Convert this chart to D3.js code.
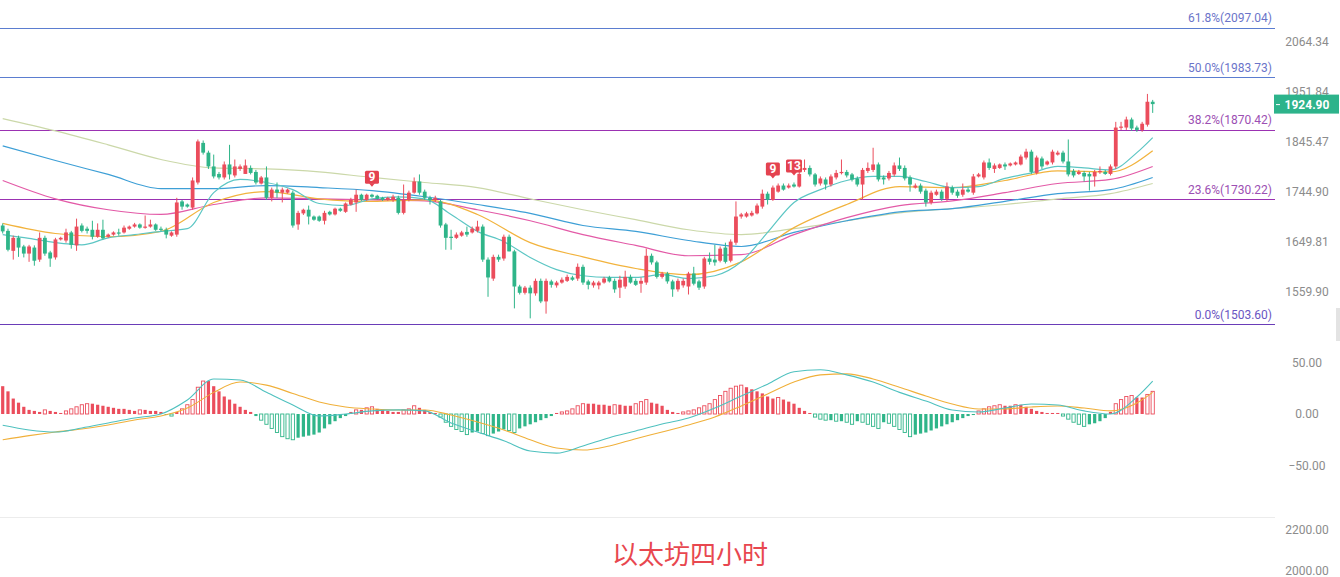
<!DOCTYPE html>
<html>
<head>
<meta charset="utf-8">
<script src="https://d3js.org/d3.v7.min.js"></script>
<style>
  body { margin: 0; background: #fff; }
  svg { display: block; font-family: Roboto, "Noto Sans", sans-serif; }
</style>
</head>
<body>
<div id="chart"></div>
<script>
// ---------- data (4h ETH candles) ----------
const opens  = [1680,1670,1633,1657,1641,1628,1639,1617,1657,1630,1621,1654,1652,1667,1643,1680,1674,1672,1659,1672,
                1659,1663,1667,1667,1674,1678,1682,1676,1678,1682,1674,1672,1661,1663,1726,1720,1714,1763,1843,1823,
                1795,1780,1773,1799,1777,1790,1780,1792,1784,1761,1773,1733,1749,1743,1743,1743,1682,1703,1710,1697,
                1697,1689,1706,1701,1712,1706,1720,1724,1739,1729,1739,1737,1733,1729,1729,1733,1704,1729,1743,1765,
                1745,1733,1729,1726,1682,1659,1657,1661,1668,1667,1670,1678,1617,1583,1622,1619,1659,1632,1569,1558,
                1567,1557,1579,1543,1578,1571,1576,1579,1585,1583,1604,1578,1571,1571,1576,1585,1579,1567,1569,1586,
                1579,1574,1576,1624,1612,1586,1592,1578,1564,1571,1569,1592,1578,1569,1619,1617,1615,1639,1615,1648,
                1697,1697,1699,1703,1716,1741,1729,1745,1757,1753,1759,1755,1788,1792,1779,1761,1769,1759,1773,1782,
                1784,1779,1771,1759,1786,1788,1799,1773,1771,1779,1797,1792,1773,1753,1757,1747,1724,1739,1745,1731,
                1753,1745,1739,1749,1743,1775,1773,1803,1790,1792,1799,1797,1799,1799,1813,1825,1782,1811,1799,1803,
                1819,1823,1805,1786,1780,1782,1780,1775,1784,1784,1780,1795,1875,1875,1892,1875,1870,1881,1930];
const highs  = [1684,1674,1661,1661,1644,1644,1643,1667,1661,1633,1657,1659,1674,1670,1693,1684,1678,1689,1684,1691,
                1665,1669,1674,1680,1680,1685,1684,1699,1691,1684,1678,1676,1669,1733,1729,1722,1773,1850,1848,1827,
                1819,1784,1805,1839,1809,1799,1809,1797,1788,1776,1795,1753,1763,1753,1751,1747,1708,1712,1718,1699,
                1699,1708,1708,1714,1714,1724,1733,1749,1741,1741,1741,1739,1735,1735,1739,1737,1759,1747,1773,1779,
                1749,1737,1737,1729,1685,1672,1667,1670,1678,1678,1689,1682,1621,1626,1626,1663,1663,1635,1572,1570,
                1571,1583,1583,1583,1581,1579,1585,1590,1588,1610,1608,1581,1579,1579,1586,1588,1583,1588,1597,1590,
                1583,1585,1637,1628,1615,1595,1595,1581,1583,1583,1595,1604,1581,1622,1630,1644,1641,1648,1654,1726,
                1704,1706,1708,1722,1749,1745,1757,1761,1761,1761,1763,1784,1809,1797,1782,1775,1773,1779,1788,1809,
                1788,1782,1775,1792,1803,1833,1803,1777,1786,1803,1813,1797,1777,1761,1761,1751,1747,1749,1749,1763,
                1757,1749,1761,1753,1780,1782,1807,1811,1801,1801,1803,1803,1805,1819,1831,1829,1817,1815,1807,1829,
                1827,1827,1850,1790,1788,1786,1784,1788,1795,1788,1799,1887,1887,1898,1896,1879,1887,1947,1934];
const lows   = [1665,1632,1617,1622,1621,1613,1606,1613,1624,1604,1617,1652,1648,1637,1633,1667,1665,1654,1657,1654,
                1657,1661,1661,1665,1672,1676,1674,1674,1676,1670,1669,1656,1659,1659,1710,1714,1710,1759,1819,1790,
                1771,1769,1769,1769,1773,1786,1780,1779,1759,1759,1729,1726,1733,1724,1741,1676,1672,1700,1682,1689,
                1687,1682,1699,1699,1706,1704,1718,1706,1727,1727,1733,1729,1727,1727,1725,1701,1701,1726,1741,1739,
                1729,1720,1725,1676,1635,1635,1655,1659,1659,1665,1667,1613,1551,1579,1613,1615,1632,1531,1555,1555,
                1514,1553,1540,1522,1567,1567,1574,1577,1579,1579,1572,1564,1567,1564,1574,1576,1558,1549,1565,1574,
                1570,1558,1572,1608,1583,1583,1574,1551,1560,1567,1555,1571,1563,1565,1608,1606,1612,1610,1612,1644,
                1693,1695,1697,1701,1712,1720,1727,1743,1747,1751,1753,1753,1784,1775,1755,1757,1749,1755,1769,1779,
                1773,1765,1755,1729,1782,1784,1765,1759,1767,1775,1786,1767,1745,1751,1741,1716,1720,1737,1727,1727,
                1739,1733,1735,1743,1739,1773,1769,1788,1782,1790,1788,1795,1797,1797,1809,1780,1779,1790,1797,1799,
                1817,1801,1775,1773,1778,1765,1747,1755,1780,1778,1777,1790,1870,1870,1868,1866,1866,1877,1906];
const closes = [1669,1635,1657,1639,1628,1641,1615,1657,1628,1619,1654,1657,1667,1644,1678,1670,1670,1659,1672,1656,
                1663,1667,1665,1676,1678,1682,1676,1678,1682,1672,1672,1663,1667,1724,1716,1716,1767,1846,1823,1795,
                1775,1773,1799,1779,1795,1795,1797,1782,1763,1773,1733,1749,1743,1749,1749,1680,1704,1710,1697,1691,
                1689,1704,1701,1712,1708,1722,1729,1739,1729,1739,1735,1731,1729,1733,1735,1704,1729,1743,1765,1743,
                1733,1729,1733,1680,1657,1657,1663,1667,1663,1674,1678,1617,1585,1622,1617,1659,1632,1569,1558,1567,
                1557,1579,1543,1579,1572,1576,1581,1586,1581,1604,1576,1572,1576,1576,1583,1578,1564,1581,1586,1576,
                1572,1579,1624,1612,1586,1592,1578,1564,1579,1579,1592,1574,1567,1619,1613,1612,1637,1613,1650,1697,
                1701,1703,1704,1718,1741,1729,1753,1757,1749,1757,1755,1780,1792,1779,1759,1771,1759,1775,1782,1784,
                1777,1769,1759,1788,1792,1799,1769,1769,1782,1797,1790,1771,1759,1757,1745,1724,1743,1745,1731,1755,
                1743,1737,1749,1745,1775,1779,1803,1792,1797,1799,1795,1801,1803,1815,1825,1784,1813,1795,1805,1825,
                1823,1805,1779,1777,1784,1775,1775,1784,1786,1780,1795,1875,1877,1892,1873,1870,1883,1930,1924.9];

// moving averages, read every 10 candles (the fast one every 5)
const maIdx   = [0,10,20,30,40,50,60,70,80,90,100,110,120,130,140,150,160,170,180,190,200,210,218];
const maSlow  = [1894,1868,1839,1809,1792,1790,1784,1773,1763,1753,1731,1710,1691,1672,1663,1674,1689,1704,1712,1720,1731,1741,1761];
const maBlue  = [1837,1807,1779,1751,1751,1757,1753,1747,1735,1720,1703,1680,1669,1652,1641,1667,1689,1706,1712,1726,1741,1749,1773];
const maPink  = [1767,1731,1710,1701,1720,1733,1731,1729,1727,1710,1689,1663,1643,1624,1626,1663,1695,1718,1727,1743,1761,1769,1795];
const maGold  = [1684,1665,1659,1669,1724,1745,1731,1726,1729,1701,1648,1622,1601,1590,1613,1676,1720,1755,1753,1767,1786,1784,1827];
const fastIdx = [0,5,10,15,20,25,30,35,40,45,50,55,60,65,70,75,80,85,90,95,100,105,110,115,120,125,130,135,140,145,
                 150,155,160,165,170,175,180,185,190,195,200,205,210,215,218];
const maFast  = [1663,1656,1648,1644,1657,1663,1669,1674,1743,1769,1763,1749,1722,1718,1731,1735,1731,1701,1669,1650,
                 1621,1599,1588,1585,1585,1590,1583,1588,1613,1667,1724,1749,1767,1775,1775,1765,1753,1755,1771,1782,
                 1795,1792,1788,1823,1854];

// MACD histogram, one per candle
const macdHist = [27,22,15,11,7,4, 3,2,4,3,2,1, 3,5,7,9,10,10,9, 8,7,6,5,5,4,3,4,4,3,3,2, -1,-2,
                  2,5,9,14,26,32, 32,27,22,17,14,10,7,4,2, -2,-6,-10,-14,-18,-22, -24,-25,-23,-22,-21,-20,-18,
                  -14,-10,-7,-4,-2, 2,4,4,6,7,5,4,3,2,2,4,5,8,6,4, 2,1,
                  -3,-8,-12,-15,-17,-20,-18,-17,-19,-21,-19,-17,-15, -16,-18,-14,-12,-10,-8,-6,-4,-2,
                  1,2,3,5,8,10, 10,10,9,9,8,9,9,8,8,10,12,14,11,10,8,4,2,1,2,3,
                  4,6,8,10,14,18,22,25,27,28,26,24,22,20,17, 15,16,14,12,10,6,3,1,-3,-5,
                  -6,-6,-7,-7,-8,-10,-7,-8,-10,-12,-14,-8,-9,-12,-15, -18,-22,-20,-19,-18,-16,-14,-12,-10,-8,
                  -6,-4,-2,-1, 3,5,7,8,9,8,8,9,9,7,5,3,2,1,1,1, -2,-5,-8,-10,-12,-10,-9,-7,
                  -4,2,10,14,17,18,16,16,19,22];
// DIF / DEA read every 5 candles
const difLine = [-11,-15.5,-17.5,-13.6,-8.7,-3.9,0,13.6,34,33,21,8.7,-2,0,3,4,3,-8.7,-17.5,-26,
                 -36,-38,-31,-23,-16.5,-9.7,-3.9,5.8,17.5,29,41,43,38,31,21,12.6,3.9,2,5.8,9.7,
                 8.7,3,0,16.5,32];
const deaLine = [-25,-21,-17.5,-14.6,-10.7,-5.8,-2,5.8,21,31,28,20,11.7,6.8,4.9,3.9,3.9,-1,-7.8,-15.5,
                 -25,-33,-35,-31,-24,-17.5,-10.7,-2.9,7.8,19.4,31,38,39,34,26,17.5,9.7,4.9,4.9,6.8,
                 7.8,5.8,3,10.7,21];

// axis labels and fibonacci levels
const priceTicks  = [2064.34,1951.84,1845.47,1744.90,1649.81,1559.90];
const macdTicks   = [50,0,-50];
const bottomTicks = [2200,2000];
const fibPct   = ["61.8%","50.0%","38.2%","23.6%","0.0%"];
const fibPrice = [2097.04,1983.73,1870.42,1730.22,1503.60];
const lastPrice = 1924.90;
const tdIdx   = [70,146,150];
const tdLabel = ["9","9","13"];

// ---------- setup ----------
const W = 1340, H = 577;
const red = "#eb4d5c", green = "#2fb589";
const fibLine = ["#5b7dd0","#5b7dd0","#9b32b2","#9b32b2","#6a3db8"];
const fibText = ["#6b74c9","#6b74c9","#9c4fb3","#9c4fb3","#6a55c2"];

const svg = d3.select("#chart").append("svg")
  .attr("width", W).attr("height", H);

const x = d3.scaleLinear().domain([0, closes.length - 1]).range([2.7, 1152.7]);
const y = d3.scaleLog().domain([1559.90, 2064.34]).range([291.7, 41.7]);
const yM = d3.scaleLinear().domain([-50, 50]).range([465.5, 362.5]);
const yB = d3.scaleLinear().domain([2000, 2200]).range([571, 530]);

// panel separator
svg.append("line")
  .attr("x1", 0).attr("x2", 1275).attr("y1", 517.5).attr("y2", 517.5)
  .attr("stroke", "#ececec");

// ---------- fibonacci levels ----------
const fib = svg.append("g");
fib.selectAll("line").data(fibPrice).join("line")
  .attr("x1", 0).attr("x2", 1275)
  .attr("y1", d => Math.round(y(d)) + 0.5).attr("y2", d => Math.round(y(d)) + 0.5)
  .attr("stroke", (d, i) => fibLine[i]).attr("stroke-width", 1);
fib.selectAll("text").data(fibPrice).join("text")
  .attr("x", 1272).attr("y", d => y(d) - 5.5)
  .attr("text-anchor", "end").attr("font-size", "12px")
  .attr("fill", (d, i) => fibText[i])
  .text((d, i) => fibPct[i] + "(" + d.toFixed(2) + ")");

// ---------- moving averages ----------
const maLine = d3.line().x(d => x(d[0])).y(d => y(d[1])).curve(d3.curveMonotoneX);
const maSets = [
  [maIdx, maSlow, "#cbd8a9"],
  [maIdx, maBlue, "#3d9fd6"],
  [maIdx, maPink, "#e35aa7"],
  [maIdx, maGold, "#f2b33d"],
  [fastIdx, maFast, "#5cc6c4"]
];
maSets.forEach(s => {
  svg.append("path")
    .datum(s[0].map((idx, k) => [idx, s[1][k]]))
    .attr("d", maLine).attr("fill", "none")
    .attr("stroke", s[2]).attr("stroke-width", 1.2);
});

// ---------- candles ----------
const idx = d3.range(closes.length);
const cColor = i => closes[i] >= opens[i] ? red : green;
const candles = svg.append("g");
candles.selectAll("line").data(idx).join("line")
  .attr("x1", i => x(i)).attr("x2", i => x(i))
  .attr("y1", i => y(highs[i])).attr("y2", i => y(lows[i]))
  .attr("stroke", cColor).attr("stroke-width", 1);
candles.selectAll("rect").data(idx).join("rect")
  .attr("x", i => x(i) - 1.9).attr("width", 3.8)
  .attr("y", i => y(Math.max(opens[i], closes[i])))
  .attr("height", i => Math.max(1.2, Math.abs(y(opens[i]) - y(closes[i]))))
  .attr("fill", cColor);

// TD sequential marks
const td = svg.append("g").selectAll("g").data(tdIdx).join("g")
  .attr("transform", i => `translate(${x(i)},${y(highs[i]) - 6})`);
td.append("rect")
  .attr("x", (d, k) => tdLabel[k].length > 1 ? -8 : -7)
  .attr("width", (d, k) => tdLabel[k].length > 1 ? 16 : 14)
  .attr("y", -17).attr("height", 13).attr("rx", 1.5)
  .attr("fill", "#e4424f");
td.append("path").attr("d", "M-3,-4.5L3,-4.5L0,-1Z").attr("fill", "#e4424f");
td.append("text")
  .attr("y", -6.5).attr("text-anchor", "middle")
  .attr("font-size", "12px").attr("font-weight", "bold").attr("fill", "#fff")
  .text((d, k) => tdLabel[k]);

// ---------- MACD ----------
const hollow = i => i > 0 && Math.abs(macdHist[i]) > Math.abs(macdHist[i - 1]);
const hColor = i => macdHist[i] >= 0 ? red : green;
svg.append("g").selectAll("rect").data(idx).join("rect")
  .attr("x", i => x(i) - 1.6).attr("width", 3.2)
  .attr("y", i => Math.min(yM(0), yM(macdHist[i])))
  .attr("height", i => Math.max(1, Math.abs(yM(macdHist[i]) - yM(0))))
  .attr("fill", i => hollow(i) ? "#fff" : hColor(i))
  .attr("stroke", hColor)
  .attr("stroke-width", i => hollow(i) ? 0.9 : 0);

const mLine = d3.line().x(d => x(d[0])).y(d => yM(d[1])).curve(d3.curveMonotoneX);
svg.append("path").datum(fastIdx.map((d, k) => [d, deaLine[k]]))
  .attr("d", mLine).attr("fill", "none").attr("stroke", "#f0b03a").attr("stroke-width", 1.1);
svg.append("path").datum(fastIdx.map((d, k) => [d, difLine[k]]))
  .attr("d", mLine).attr("fill", "none").attr("stroke", "#4fc1bf").attr("stroke-width", 1.1);

// ---------- right axes ----------
function rightAxis(scale, ticks, fmt) {
  const g = svg.append("g").attr("transform", "translate(1307,0)")
    .call(d3.axisRight(scale).tickValues(ticks).tickSize(0).tickPadding(0).tickFormat(fmt));
  g.select(".domain").remove();
  g.selectAll("text")
    .attr("text-anchor", "middle").attr("font-size", "12px")
    .attr("font-family", "Roboto, sans-serif").attr("fill", "#8c8c8c");
}
rightAxis(y, priceTicks, d3.format(".2f"));
rightAxis(yM, macdTicks, d3.format(".2f"));
rightAxis(yB, bottomTicks, d3.format(".2f"));

// last price badge
const badge = svg.append("g").attr("transform", `translate(0,${y(lastPrice)})`);
badge.append("rect").attr("x", 1274).attr("y", -9.5).attr("width", 65).attr("height", 19)
  .attr("fill", "#2db38b");
badge.append("line").attr("x1", 1276).attr("x2", 1280).attr("y1", 0.5).attr("y2", 0.5)
  .attr("stroke", "#fff");
badge.append("text").attr("x", 1307).attr("y", 4.5).attr("text-anchor", "middle")
  .attr("font-size", "12px").attr("font-weight", "bold").attr("fill", "#fff")
  .text(lastPrice.toFixed(2));

// small scroll handle at the right edge
svg.append("rect").attr("x", 1336).attr("y", 308).attr("width", 4).attr("height", 33)
  .attr("fill", "#e3e3e3");

// title
svg.append("text")
  .attr("x", 690).attr("y", 564).attr("text-anchor", "middle")
  .attr("font-family", "'Noto Sans CJK SC', sans-serif")
  .attr("font-size", "26px").attr("fill", "#e8474f")
  .text("以太坊四小时");
</script>
</body>
</html>
